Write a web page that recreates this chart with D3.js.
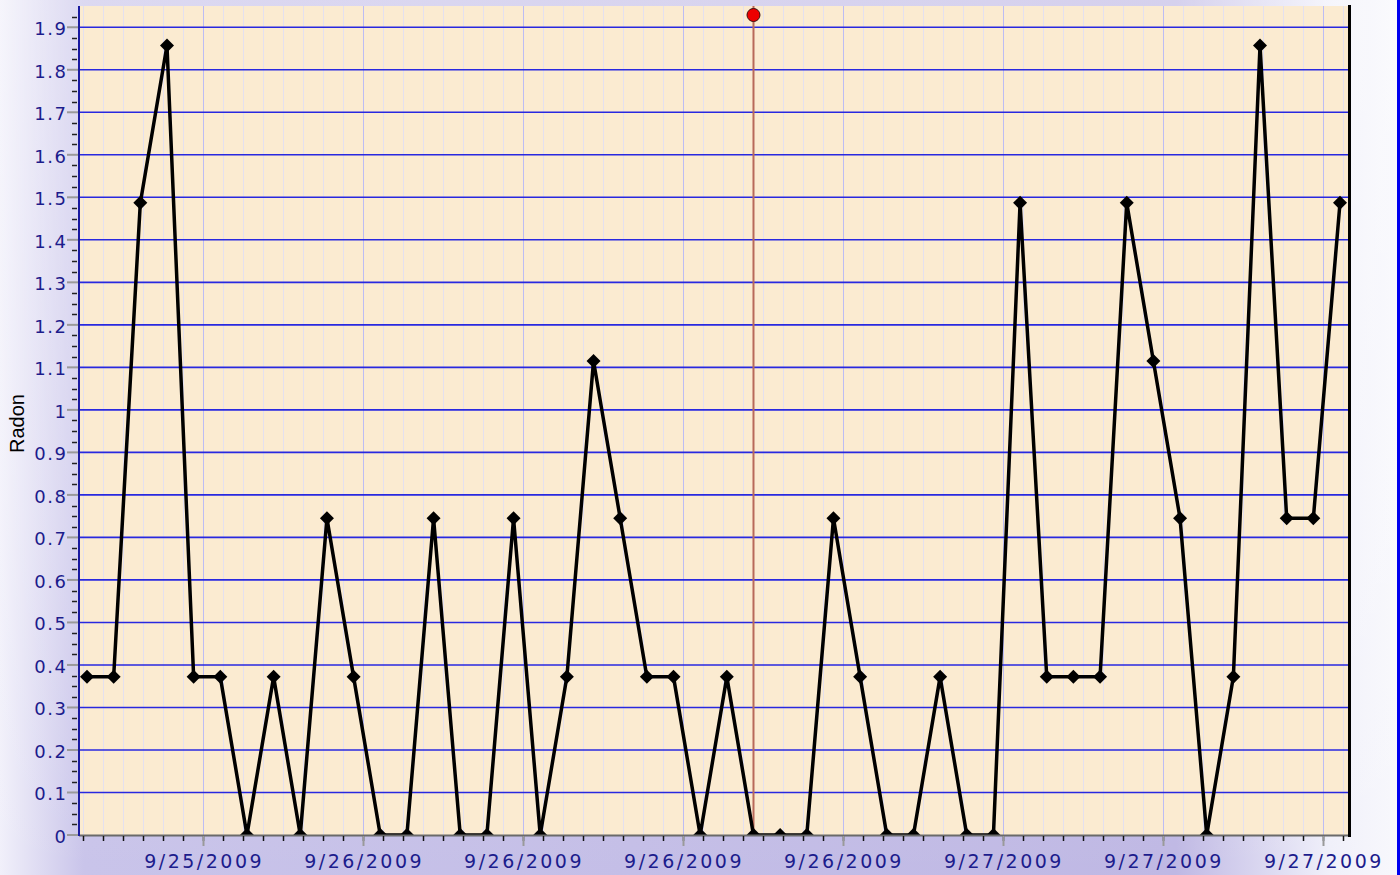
<!DOCTYPE html>
<html lang="en">
<head>
  <meta charset="UTF-8">
  <title>Radon</title>
  <script src="https://d3js.org/d3.v7.min.js"></script>
  <style>
    body { margin: 0; background: #f4f4fa; }
    .tick-label { font-family: "DejaVu Sans", Verdana, sans-serif; font-size: 19px; fill: #1c1c8c; }
    .ytick { font-size: 18px; }
    .axis-title { font-family: "Liberation Sans", Arial, sans-serif; font-size: 20px; fill: #000; }
  </style>
</head>
<body>
  <svg id="chart" width="1400" height="875"></svg>
  <script>
    // hourly readings
    const times = [
      '2009-09-25T13:39', '2009-09-25T14:39', '2009-09-25T15:39', '2009-09-25T16:39',
      '2009-09-25T17:39', '2009-09-25T18:39', '2009-09-25T19:39', '2009-09-25T20:39',
      '2009-09-25T21:39', '2009-09-25T22:39', '2009-09-25T23:39', '2009-09-26T00:39',
      '2009-09-26T01:39', '2009-09-26T02:39', '2009-09-26T03:39', '2009-09-26T04:39',
      '2009-09-26T05:39', '2009-09-26T06:39', '2009-09-26T07:39', '2009-09-26T08:39',
      '2009-09-26T09:39', '2009-09-26T10:39', '2009-09-26T11:39', '2009-09-26T12:39',
      '2009-09-26T13:39', '2009-09-26T14:39', '2009-09-26T15:39', '2009-09-26T16:39',
      '2009-09-26T17:39', '2009-09-26T18:39', '2009-09-26T19:39', '2009-09-26T20:39',
      '2009-09-26T21:39', '2009-09-26T22:39', '2009-09-26T23:39', '2009-09-27T00:39',
      '2009-09-27T01:39', '2009-09-27T02:39', '2009-09-27T03:39', '2009-09-27T04:39',
      '2009-09-27T05:39', '2009-09-27T06:39', '2009-09-27T07:39', '2009-09-27T08:39',
      '2009-09-27T09:39', '2009-09-27T10:39', '2009-09-27T11:39', '2009-09-27T12:39'
    ];
    const radon = [
      0.372, 0.372, 1.487, 1.857, 0.372, 0.372, 0, 0.372,
      0, 0.745, 0.372, 0, 0, 0.745, 0, 0,
      0.745, 0, 0.372, 1.115, 0.745, 0.372, 0.372, 0,
      0.372, 0, 0, 0, 0.745, 0.372, 0, 0,
      0.372, 0, 0, 1.487, 0.372, 0.372, 0.372, 1.487,
      1.115, 0.745, 0, 0.372, 1.857, 0.745, 0.745, 1.487
    ];
    const cursorTime = '2009-09-26T14:39';
    const yTicks = [0, 0.1, 0.2, 0.3, 0.4, 0.5, 0.6, 0.7, 0.8, 0.9, 1, 1.1, 1.2, 1.3, 1.4, 1.5, 1.6, 1.7, 1.8, 1.9];
    const yMax = 1.95;
    const yLabel = 'Radon';

    const W = 1400, H = 875;
    const pLeft = 79, pRight = 1348, pTop = 6, pBottom = 835;

    const parse = s => new Date(s + ':00Z');
    const data = times.map((t, i) => ({ t: parse(t), v: radon[i] }));
    const pad = 18 * 60 * 1000;

    const x = d3.scaleUtc()
      .domain([+data[0].t - pad, +data[data.length - 1].t + pad])
      .range([pLeft, pRight]);
    const y = d3.scaleLinear().domain([0, yMax]).range([pBottom, pTop]);

    const svg = d3.select('#chart');
    const defs = svg.append('defs');

    const bg = defs.append('linearGradient').attr('id', 'bg');
    bg.append('stop').attr('offset', '0%').attr('stop-color', '#f1f0fa');
    bg.append('stop').attr('offset', '6%').attr('stop-color', '#c9c4ea');
    bg.append('stop').attr('offset', '84%').attr('stop-color', '#bfb8e4');
    bg.append('stop').attr('offset', '95%').attr('stop-color', '#f0f0fa');
    bg.append('stop').attr('offset', '100%').attr('stop-color', '#f8f8fc');

    const fade = defs.append('linearGradient').attr('id', 'fade')
      .attr('x1', 0).attr('y1', 0).attr('x2', 0).attr('y2', 1);
    fade.append('stop').attr('offset', '0%').attr('stop-color', '#fff').attr('stop-opacity', 0.35);
    fade.append('stop').attr('offset', '60%').attr('stop-color', '#fff').attr('stop-opacity', 0.2);
    fade.append('stop').attr('offset', '100%').attr('stop-color', '#fff').attr('stop-opacity', 0);

    defs.append('clipPath').attr('id', 'plotclip')
      .append('rect').attr('x', pLeft).attr('y', pTop).attr('width', pRight - pLeft).attr('height', pBottom - pTop);

    svg.append('rect').attr('width', W).attr('height', H).attr('fill', 'url(#bg)');
    svg.append('rect').attr('width', W).attr('height', H).attr('fill', 'url(#fade)');

    // plot area
    svg.append('rect')
      .attr('x', pLeft).attr('y', pTop)
      .attr('width', pRight - pLeft).attr('height', pBottom - pTop)
      .attr('fill', '#fbebd1');

    // x ticks: majors every 6h, minors every 45 min
    const majors = x.ticks(d3.utcHour.every(6));
    const step = 45 * 60 * 1000;
    const [d0, d1] = x.domain();
    const first = +majors[0] - Math.floor((+majors[0] - d0) / step) * step;
    const minors = d3.range(first, +d1 + 1, step).map(t => new Date(t));

    const grid = svg.append('g').attr('clip-path', 'url(#plotclip)');
    grid.selectAll('.vminor').data(minors).enter().append('line')
      .attr('x1', d => Math.round(x(d)) + 0.5).attr('x2', d => Math.round(x(d)) + 0.5)
      .attr('y1', pTop).attr('y2', pBottom)
      .attr('stroke', '#e4e0ee').attr('stroke-width', 1);
    grid.selectAll('.vmajor').data(majors).enter().append('line')
      .attr('x1', d => Math.round(x(d)) + 0.5).attr('x2', d => Math.round(x(d)) + 0.5)
      .attr('y1', pTop).attr('y2', pBottom)
      .attr('stroke', '#bcbcf4').attr('stroke-width', 1);
    grid.selectAll('.hgrid').data(yTicks.filter(d => d > 0)).enter().append('line')
      .attr('x1', pLeft).attr('x2', pRight)
      .attr('y1', d => y(d)).attr('y2', d => y(d))
      .attr('stroke', '#2828e0').attr('stroke-width', 1.6);

    // cursor line
    const cx = x(parse(cursorTime));
    svg.append('line')
      .attr('x1', cx).attr('x2', cx).attr('y1', pTop).attr('y2', pBottom)
      .attr('stroke', '#b8695a').attr('stroke-width', 2);

    // series
    const plot = svg.append('g').attr('clip-path', 'url(#plotclip)');
    plot.append('path')
      .datum(data)
      .attr('fill', 'none')
      .attr('stroke', '#000')
      .attr('stroke-width', 3.5)
      .attr('stroke-linejoin', 'miter')
      .attr('d', d3.line().x(d => x(d.t)).y(d => y(d.v)));
    plot.selectAll('.pt').data(data).enter().append('path')
      .attr('transform', d => `translate(${x(d.t)},${y(d.v)})`)
      .attr('d', 'M0,-7L7,0L0,7L-7,0Z')
      .attr('fill', '#000');

    // cursor marker
    svg.append('circle')
      .attr('cx', cx).attr('cy', 15).attr('r', 6.5)
      .attr('fill', '#ee0000').attr('stroke', '#3a1010').attr('stroke-width', 1);

    // x axis
    svg.append('line')
      .attr('x1', pLeft).attr('x2', pRight).attr('y1', pBottom + 0.5).attr('y2', pBottom + 0.5)
      .attr('stroke', '#6a6a6a').attr('stroke-width', 2);
    svg.selectAll('.xminor').data(minors).enter().append('line')
      .attr('x1', d => Math.round(x(d)) + 0.5).attr('x2', d => Math.round(x(d)) + 0.5)
      .attr('y1', pBottom + 1).attr('y2', pBottom + 6)
      .attr('stroke', '#111').attr('stroke-width', 1.5);
    svg.selectAll('.xmajor').data(majors).enter().append('line')
      .attr('x1', d => Math.round(x(d)) + 0.5).attr('x2', d => Math.round(x(d)) + 0.5)
      .attr('y1', pBottom + 1).attr('y2', pBottom + 11)
      .attr('stroke', '#9a9a9a').attr('stroke-width', 2);
    const fmt = d3.utcFormat('%-m/%-d/%Y');
    svg.selectAll('.xlab').data(majors).enter().append('text')
      .attr('class', 'tick-label')
      .attr('x', d => x(d) + 1.2).attr('y', 867.5)
      .attr('text-anchor', 'middle')
      .style('letter-spacing', '2.5px')
      .text(d => fmt(d));

    // y axis: 3 minor ticks between labelled ones
    const isMajor = v => Math.abs(v * 10 - Math.round(v * 10)) < 1e-6;
    const yMinor = d3.range(1, 78).map(i => i * 0.025).filter(v => v < yMax && !isMajor(v));
    svg.selectAll('.yminor').data(yMinor).enter().append('line')
      .attr('x1', 72).attr('x2', 77)
      .attr('y1', d => Math.round(y(d)) + 0.5).attr('y2', d => Math.round(y(d)) + 0.5)
      .attr('stroke', '#222').attr('stroke-width', 1.5);
    svg.selectAll('.ymajor').data(yTicks).enter().append('line')
      .attr('x1', 67).attr('x2', 79)
      .attr('y1', d => y(d)).attr('y2', d => y(d))
      .attr('stroke', '#9a9a9a').attr('stroke-width', 2);
    svg.append('line')
      .attr('x1', pLeft).attr('x2', pLeft).attr('y1', pTop).attr('y2', pBottom + 1)
      .attr('stroke', '#1a1aa0').attr('stroke-width', 2);
    svg.selectAll('.ylab').data(yTicks).enter().append('text')
      .attr('class', 'tick-label ytick')
      .attr('x', 67.5).attr('y', d => y(d) + 8)
      .attr('text-anchor', 'end')
      .style('letter-spacing', '1.5px')
      .text(d => d3.format('~g')(d));

    svg.append('text')
      .attr('class', 'axis-title')
      .attr('transform', `translate(24,${(pTop + pBottom) / 2 + 3}) rotate(-90)`)
      .attr('text-anchor', 'middle')
      .text(yLabel);

    // right border and frame edge
    svg.append('line')
      .attr('x1', pRight + 1.5).attr('x2', pRight + 1.5).attr('y1', pTop - 1).attr('y2', pBottom + 2)
      .attr('stroke', '#000').attr('stroke-width', 3);
    svg.append('line')
      .attr('x1', 1398.5).attr('x2', 1398.5).attr('y1', 0).attr('y2', H)
      .attr('stroke', '#0000f0').attr('stroke-width', 3);
  </script>
</body>
</html>
